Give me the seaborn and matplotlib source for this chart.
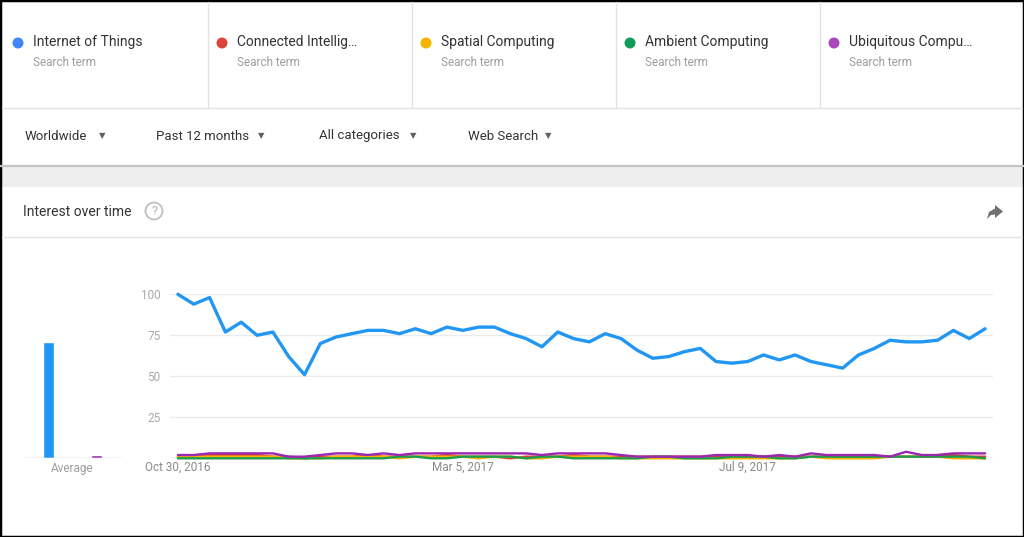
import pandas as pd
import matplotlib
matplotlib.use('Agg')
import matplotlib.pyplot as plt
import matplotlib.dates as mdates
import matplotlib.patches as patches
import seaborn as sns

# search terms shown in the header and their colours
terms = ['Internet of Things', 'Connected Intelligence', 'Spatial Computing',
         'Ambient Computing', 'Ubiquitous Computing']
header_labels = ['Internet of Things', 'Connected Intellig\u2026', 'Spatial Computing',
                 'Ambient Computing', 'Ubiquitous Compu\u2026']
dot_colors = ['#4285f4', '#db4437', '#f4b400', '#0f9d58', '#ab47bc']
line_colors = ['#2196f3', '#e53935', '#f4b400', '#1e9e4a', '#9c27b0']

filters = ['Worldwide', 'Past 12 months', 'All categories', 'Web Search']

# weekly interest, Oct 30 2016 .. Oct 22 2017
weeks = pd.date_range('2016-10-30', periods=52, freq='7D')
iot = [100, 94, 98, 77, 83, 75, 77, 62, 51, 70, 74, 76, 78, 78, 76, 79, 76, 80, 78, 80,
       80, 76, 73, 68, 77, 73, 71, 76, 73, 66, 61, 62, 65, 67, 59, 58, 59, 63, 60, 63,
       59, 57, 55, 63, 67, 72, 71, 71, 72, 78, 73, 79]
connected = [1, 1, 2, 2, 2, 2, 1, 1, 0, 1, 1, 1, 2, 1, 1, 1, 1, 2, 1, 1, 1, 0, 1, 1, 1, 2,
             1, 1, 1, 1, 1, 1, 1, 1, 1, 1, 1, 1, 1, 1, 1, 1, 1, 1, 1, 1, 1, 1, 2, 2, 1, 1]
spatial = [1, 1, 1, 1, 1, 1, 1, 0, 0, 0, 1, 1, 1, 1, 0, 1, 1, 1, 1, 0, 1, 1, 0, 0, 1, 1,
           1, 1, 0, 0, 0, 0, 0, 0, 0, 0, 0, 0, 0, 0, 1, 0, 0, 0, 0, 1, 1, 1, 1, 0, 0, 0]
ambient = [0, 0, 0, 0, 0, 0, 0, 0, 0, 0, 0, 0, 0, 0, 1, 1, 0, 0, 1, 1, 1, 1, 0, 1, 1, 0,
           0, 0, 0, 0, 1, 1, 0, 0, 0, 1, 1, 1, 0, 0, 1, 1, 1, 1, 1, 1, 1, 1, 1, 1, 1, 0]
ubiquitous = [2, 2, 3, 3, 3, 3, 3, 1, 1, 2, 3, 3, 2, 3, 2, 3, 3, 3, 3, 3, 3, 3, 3, 2, 3, 3,
              3, 3, 2, 1, 1, 1, 1, 1, 2, 2, 2, 1, 2, 1, 3, 2, 2, 2, 2, 1, 4, 2, 2, 3, 3, 3]
averages = [71, 1, 0, 0, 2]

tick_weeks = [0, 18, 36]

W, H = 1024, 537
sns.set_theme(style='white')
plt.rcParams['font.family'] = ['Roboto', 'DejaVu Sans']

fig = plt.figure(figsize=(W / 100, H / 100), dpi=100)
tf = fig.transFigure


def fx(x):
    return x / W


def fy(y):
    return 1 - y / H


def hline(y, x0, x1, color, lw=1.0):
    fig.add_artist(plt.Line2D([fx(x0), fx(x1)], [fy(y), fy(y)], color=color, lw=lw, transform=tf))


# header with the search terms
col_w = 204
for i, (lab, c) in enumerate(zip(header_labels, dot_colors)):
    x = 2 + i * col_w
    if i > 0:
        fig.add_artist(plt.Line2D([fx(x + 2), fx(x + 2)], [fy(2), fy(107)], color='#e3e3e3', lw=1, transform=tf))
    fig.add_artist(patches.Ellipse((fx(x + 16), fy(43)), 11 / W, 11 / H, transform=tf, color=c, lw=0))
    fig.text(fx(x + 31), fy(42), lab, fontsize=10, color='#333333', va='center')
    fig.text(fx(x + 31), fy(63), 'Search term', fontsize=8.5, color='#9e9e9e', va='center')
hline(107.5, 2, W - 2, '#e3e3e3')

# filter dropdowns
fx_pos = [25, 156, 319, 468]
arrow_pos = [102, 261, 413, 548]
for lab, x, ax_ in zip(filters, fx_pos, arrow_pos):
    fig.text(fx(x), fy(136), lab, fontsize=9.5, color='#333333', va='center')
    fig.text(fx(ax_), fy(136), '\u25bc', fontsize=6, color='#616161', va='center', ha='center',
             family=['DejaVu Sans'])

# grey band
fig.add_artist(patches.Rectangle((0, fy(187)), 1, (187 - 166) / H, transform=tf, color='#eeeeee', lw=0))
hline(166, 0, W, '#c4c4c4', lw=1.6)

# card title
fig.text(fx(23), fy(212), 'Interest over time', fontsize=10, color='#333333', va='center')
fig.add_artist(patches.Ellipse((fx(154), fy(211)), 17 / W, 17 / H, transform=tf, fill=False,
                               edgecolor='#c0c0c0', lw=1.3))
fig.text(fx(154), fy(211.5), '?', fontsize=9, color='#b0b0b0', va='center', ha='center')
share = [(987, 219), (989, 212), (995, 208.5), (995, 205), (1003, 211.5), (995, 218), (995, 214.5), (991, 215)]
fig.add_artist(patches.Polygon([(fx(a), fy(b)) for a, b in share], closed=True, transform=tf,
                               color='#707070', lw=0))
hline(237, 2, W - 2, '#e3e3e3')

# line chart
df = pd.DataFrame({'week': list(weeks) * 5,
                   'term': [t for t in terms for _ in weeks],
                   'value': iot + connected + spatial + ambient + ubiquitous})
top, bottom = 294.3, 458.3
ax = fig.add_axes([fx(170), fy(bottom), (993 - 170) / W, (bottom - top) / H])
for t, c in zip(terms, line_colors):
    sub = df[df['term'] == t]
    sns.lineplot(data=sub, x='week', y='value', color=c, ax=ax,
                 linewidth=2.4 if t == terms[0] else 1.7, clip_on=False)
ax.set_ylim(0, 100)
ax.set_xlim(weeks[0] - pd.Timedelta(days=3.5), weeks[-1] + pd.Timedelta(days=3.5))
ax.set_yticks([25, 50, 75, 100])
ax.set_xticks([weeks[i] for i in tick_weeks])
ax.xaxis.set_major_formatter(mdates.DateFormatter('%b %-d, %Y'))
ax.grid(axis='y', color='#ebebeb', lw=1)
ax.grid(axis='x', visible=False)
ax.axhline(0, color='#c4c4c4', lw=1, zorder=1)
ax.tick_params(axis='y', length=0, pad=7, labelsize=8.5, labelcolor='#a8a8a8')
ax.tick_params(axis='x', length=0, pad=2, labelsize=8.5, labelcolor='#8a8a8a')
ax.set_xlabel('')
ax.set_ylabel('')
for s in ax.spines.values():
    s.set_visible(False)
ax.set_facecolor('none')

# average bars
bx = fig.add_axes([fx(23), fy(bottom), (122 - 23) / W, (bottom - top) / H])
sns.barplot(x=terms, y=averages, hue=terms, palette=line_colors, width=0.9, legend=False, ax=bx,
            order=terms, hue_order=terms, saturation=1)
bx.set_xlim(-2.1, 6.1)
bx.set_ylim(0, 100)
bx.set_xticks([])
bx.set_yticks([])
bx.set_xlabel('Average', fontsize=8.5, color='#9e9e9e', labelpad=3)
bx.axhline(0, color='#c4c4c4', lw=1)
for s in bx.spines.values():
    s.set_visible(False)
bx.set_facecolor('none')

# screenshot frame
fig.add_artist(patches.Rectangle((0, 0), 1, 1, transform=tf, fill=False, edgecolor='black', lw=2.5))

fig.savefig('out.png', dpi=100)
